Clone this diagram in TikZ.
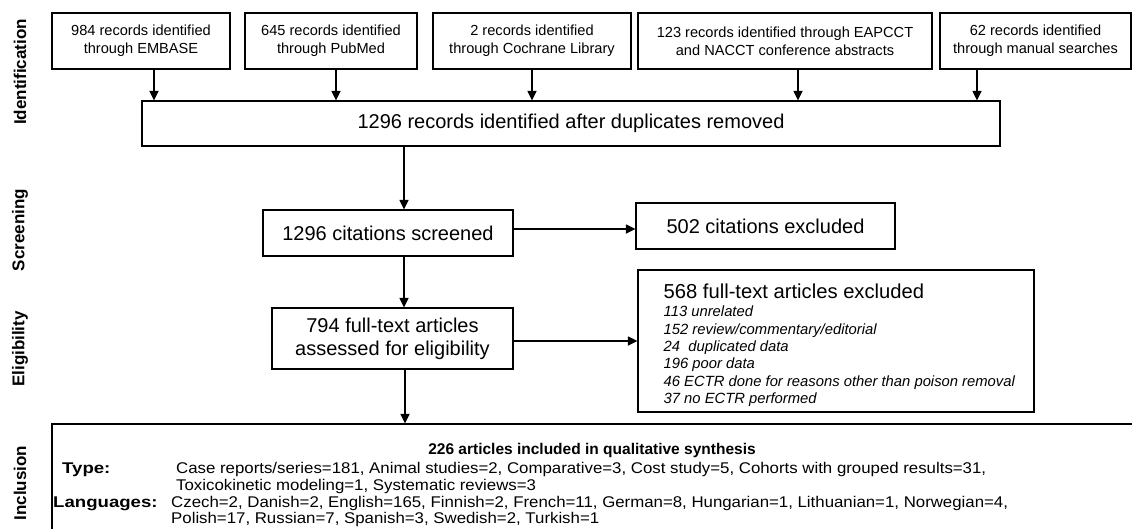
\documentclass[tikz,border=0pt]{standalone}
\usepackage{fontspec}
\setmainfont{Liberation Sans}
\newfontfamily\inclfont[FakeStretch=1.085]{Liberation Sans}
\newfontfamily\incllblfont[FakeStretch=1.2]{Liberation Sans}
\usetikzlibrary{arrows.meta}

\tikzset{
	box/.style={draw, line width=1.1pt, align=center, inner sep=0pt},
	srcbox/.style={box, minimum height=56pt, font=\fontsize{14.6}{18}\selectfont},
	bigbox/.style={box, font=\fontsize{20}{23}\selectfont},
	arr/.style={line width=1.1pt, -{Triangle[width=9pt,length=9.5pt]}},
	phase/.style={rotate=90, inner sep=0pt, font=\fontsize{17}{17}\selectfont\bfseries},
	incltext/.style={anchor=base west, inner sep=0pt, font=\inclfont\fontsize{15.5}{16}\selectfont},
	incllbl/.style={anchor=base west, inner sep=0pt, font=\incllblfont\fontsize{15.5}{16}\selectfont\bfseries},
}

\begin{document}
\begin{tikzpicture}[x=1pt,y=-1pt]
				\useasboundingbox (0,0) rectangle (1132,528);
				
				% phases
				\node[phase] (lblident) at (20,72) {Identification};
				\node[phase] (lblscreen) at (20,230) {Screening};
				\node[phase] (lblelig) at (20,349) {Eligibility};
				\node[phase] (lblincl) at (20,483) {Inclusion};
				
				% sources
				\node[srcbox, minimum width=178pt] (embase) at (141,41) {984 records identified\\through EMBASE};
				\node[srcbox, minimum width=172pt] (pubmed) at (331,41) {645 records identified\\through PubMed};
				\node[srcbox, minimum width=198pt] (cochrane) at (532,41) {2 records identified\\through Cochrane Library};
				\node[srcbox, minimum width=294pt] (eapcct) at (785,41) {123 records identified through EAPCCT\\and NACCT conference abstracts};
				\node[srcbox, minimum width=191pt] (manual) at (1035.5,41) {62 records identified\\through manual searches};
				
				\node[bigbox, minimum width=858pt, minimum height=45pt] (dedup) at (571,123.5) {1296 records identified after duplicates removed};
				
				\foreach \src/\dx in {embase/13, pubmed/5, cochrane/0, eapcct/13, manual/-58.5}
					\draw[arr] ([xshift=\dx pt]\src.south) -- ([xshift=\dx pt]\src.south |- dedup.north);
				
				% screening
				\node[bigbox, minimum width=250pt, minimum height=46pt] (screened) at (388,233) {1296 citations screened};
				\node[bigbox, minimum width=259pt, minimum height=46pt] (excl1) at (765.5,226) {502 citations excluded};
				
				\draw[arr] ([xshift=16pt]screened.north |- dedup.south) -- ([xshift=16pt]screened.north);
				\draw[arr] ([yshift=4pt]screened.east) -- ([yshift=4pt]screened.east -| excl1.west);
				
				% eligibility
				\node[bigbox, minimum width=241pt, minimum height=61pt] (fulltext) at (392.5,338.5) {794 full-text articles\\assessed for eligibility};
				\node[box, minimum width=396pt, minimum height=142pt] (excl2) at (836,341) {};
				\node[anchor=north west, align=left, inner sep=0pt, font=\fontsize{14.8}{17.3}\selectfont\itshape] (excl2text) at ([xshift=26pt,yshift=-14.3pt]excl2.north west)
					{{\fontsize{20.2}{20}\selectfont\upshape 568 full-text articles excluded}\\[1pt]
					113 unrelated\\
					152 review/commentary/editorial\\
					24 \ duplicated data\\
					196 poor data\\
					46 ECTR done for reasons other than poison removal\\
					37 no ECTR performed};
				
				\draw[arr] ([xshift=16pt]screened.south) -- ([xshift=16pt]screened.south |- fulltext.north);
				\draw[arr] ([yshift=-2.5pt]fulltext.east) -- ([yshift=-2.5pt]fulltext.east -| excl2.west);
				
				% inclusion
				\node[box, minimum width=1082pt, minimum height=108pt] (incl) at (593,478) {};
				\draw[arr] ([xshift=12.5pt]fulltext.south) -- ([xshift=12.5pt]fulltext.south |- incl.north);
				
				\node[anchor=base, inner sep=0pt, font=\fontsize{15.5}{16}\selectfont\bfseries] (incltitle) at (592,454) {226 articles included in qualitative synthesis};
				\node[incllbl] (typelbl) at (62,473) {Type:};
				\node[incltext] (typea) at (176,473) {Case reports/series=181, Animal studies=2, Comparative=3, Cost study=5, Cohorts with grouped results=31,};
				\node[incltext] (typeb) at (176,490) {Toxicokinetic modeling=1, Systematic reviews=3};
				\node[incllbl] (langlbl) at (53,507) {Languages:};
				\node[incltext] (langa) at (171,507) {Czech=2, Danish=2, English=165, Finnish=2, French=11, German=8, Hungarian=1, Lithuanian=1, Norwegian=4,};
				\node[incltext] (langb) at (171,523) {Polish=17, Russian=7, Spanish=3, Swedish=2, Turkish=1};
				\end{tikzpicture}
\end{document}
